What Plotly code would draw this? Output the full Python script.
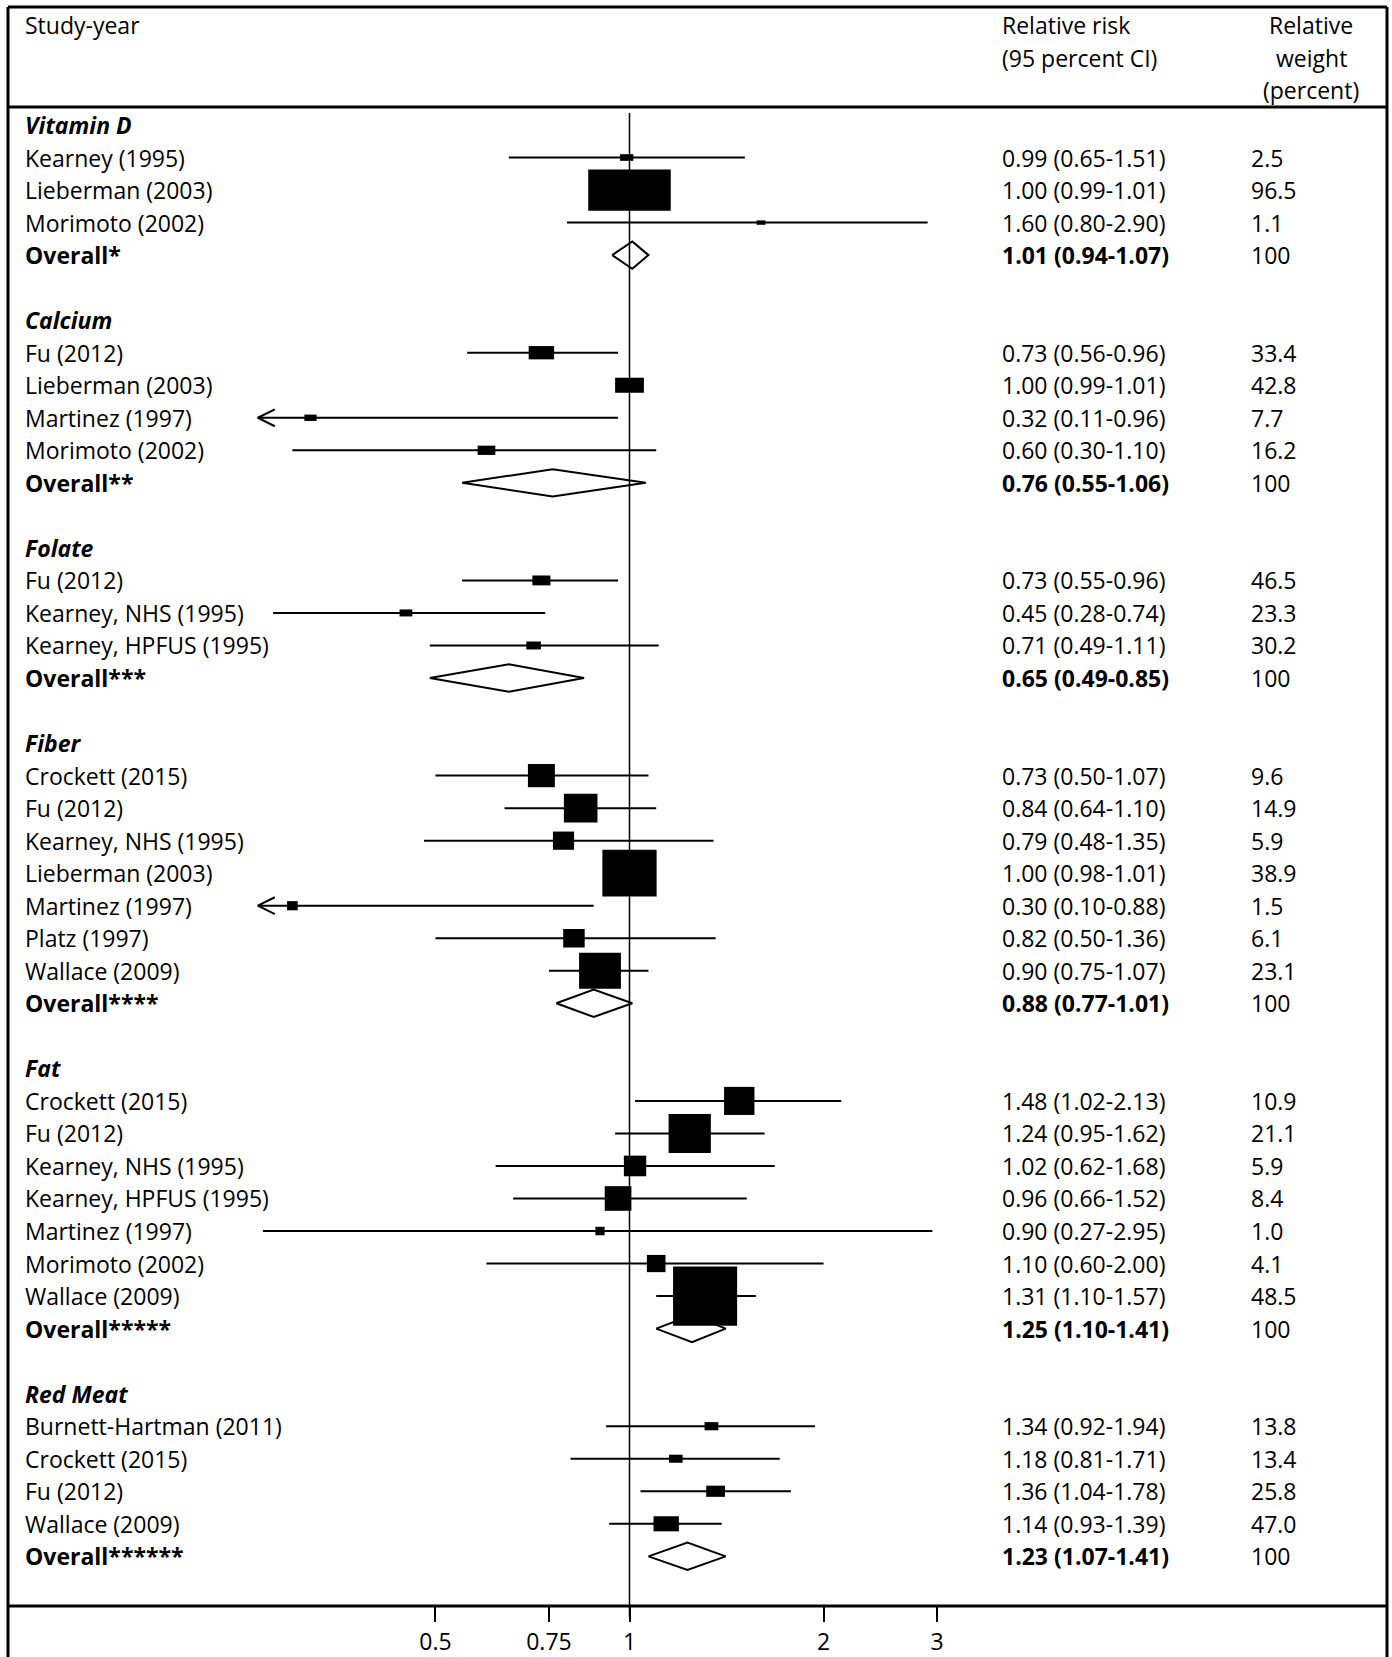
import numpy as np
import plotly.graph_objects as go

# ---- data ----
group_names = ["Vitamin D", "Calcium", "Folate", "Fiber", "Fat", "Red Meat"]

study_group = [0, 0, 0,
               1, 1, 1, 1,
               2, 2, 2,
               3, 3, 3, 3, 3, 3, 3,
               4, 4, 4, 4, 4, 4, 4,
               5, 5, 5, 5]
study_names = ["Kearney (1995)", "Lieberman (2003)", "Morimoto (2002)",
               "Fu (2012)", "Lieberman (2003)", "Martinez (1997)", "Morimoto (2002)",
               "Fu (2012)", "Kearney, NHS (1995)", "Kearney, HPFUS (1995)",
               "Crockett (2015)", "Fu (2012)", "Kearney, NHS (1995)", "Lieberman (2003)",
               "Martinez (1997)", "Platz (1997)", "Wallace (2009)",
               "Crockett (2015)", "Fu (2012)", "Kearney, NHS (1995)", "Kearney, HPFUS (1995)",
               "Martinez (1997)", "Morimoto (2002)", "Wallace (2009)",
               "Burnett-Hartman (2011)", "Crockett (2015)", "Fu (2012)", "Wallace (2009)"]
study_rr = [0.99, 1.00, 1.60,
            0.73, 1.00, 0.32, 0.60,
            0.73, 0.45, 0.71,
            0.73, 0.84, 0.79, 1.00, 0.30, 0.82, 0.90,
            1.48, 1.24, 1.02, 0.96, 0.90, 1.10, 1.31,
            1.34, 1.18, 1.36, 1.14]
study_lo = [0.65, 0.99, 0.80,
            0.56, 0.99, 0.11, 0.30,
            0.55, 0.28, 0.49,
            0.50, 0.64, 0.48, 0.98, 0.10, 0.50, 0.75,
            1.02, 0.95, 0.62, 0.66, 0.27, 0.60, 1.10,
            0.92, 0.81, 1.04, 0.93]
study_hi = [1.51, 1.01, 2.90,
            0.96, 1.01, 0.96, 1.10,
            0.96, 0.74, 1.11,
            1.07, 1.10, 1.35, 1.01, 0.88, 1.36, 1.07,
            2.13, 1.62, 1.68, 1.52, 2.95, 2.00, 1.57,
            1.94, 1.71, 1.78, 1.39]
study_weight = [2.5, 96.5, 1.1,
                33.4, 42.8, 7.7, 16.2,
                46.5, 23.3, 30.2,
                9.6, 14.9, 5.9, 38.9, 1.5, 6.1, 23.1,
                10.9, 21.1, 5.9, 8.4, 1.0, 4.1, 48.5,
                13.8, 13.4, 25.8, 47.0]

overall_labels = ["Overall*", "Overall**", "Overall***", "Overall****",
                  "Overall*****", "Overall******"]
overall_rr = [1.01, 0.76, 0.65, 0.88, 1.25, 1.23]
overall_lo = [0.94, 0.55, 0.49, 0.77, 1.10, 1.07]
overall_hi = [1.07, 1.06, 0.85, 1.01, 1.41, 1.41]

x_ticks = [0.5, 0.75, 1, 2, 3]
x_tick_labels = ["0.5", "0.75", "1", "2", "3"]

# ---- layout constants (pixels) ----
W, H = 1392, 1657
FONT = "Open Sans, sans-serif"
FS = 23
ROW0, ROW_H = 125, 32.53          # centre of first row, row pitch
AX_TOP, AX_BOT = 107, 1606        # header rule / axis rule
AX_L, AX_R = 257, 990             # plotting column
ONE_PX, DEC_PX = 629.5, 644.7     # where RR=1 sits, pixels per decade
COL_STUDY, COL_CI, COL_WT, COL_WT_HEAD = 23, 1000, 1249, 1311

# box size per sqrt(weight), in pixels (each panel was scaled differently)
box_w = {"Vitamin D": 8.4, "Calcium": 4.4, "Folate": 2.65, "Fiber": 8.7, "Fat": 9.2, "Red Meat": 3.7}
box_h = {"Vitamin D": 4.2, "Calcium": 2.3, "Folate": 1.45, "Fiber": 7.5, "Fat": 8.5, "Red Meat": 2.2}


def px(x):
    return x / W


def py(y):
    return 1 - y / H


x_range = [(AX_L - ONE_PX) / DEC_PX, (AX_R - ONE_PX) / DEC_PX]
y_range = [(AX_BOT - ROW0) / ROW_H, (AX_TOP - ROW0) / ROW_H]
x_min = 10 ** x_range[0]

# assign rows
group_row, overall_row = [], []
study_row = [None] * len(study_names)
r = 0
for g in range(len(group_names)):
    group_row.append(r)
    r += 1
    for i, sg in enumerate(study_group):
        if sg == g:
            study_row[i] = r
            r += 1
    overall_row.append(r)
    r += 2

fig = go.Figure()
line_style = dict(color="black", width=2)

for i in range(len(study_names)):
    row = study_row[i]
    g = group_names[study_group[i]]
    lo = max(study_lo[i], x_min * 1.003)
    fig.add_trace(go.Scatter(x=[lo, study_hi[i]], y=[row, row], mode="lines",
                             line=line_style, hoverinfo="skip", showlegend=False))
    if study_lo[i] < x_min:
        # open arrow head where the interval runs off the scale
        back = 10 ** (17 / DEC_PX)
        fig.add_trace(go.Scatter(x=[lo * back, lo, lo * back], y=[row - 0.26, row, row + 0.26],
                                 mode="lines", line=line_style, hoverinfo="skip", showlegend=False))
    hw = box_w[g] * np.sqrt(study_weight[i]) / 2 / DEC_PX
    hh = box_h[g] * np.sqrt(study_weight[i]) / 2 / ROW_H
    x0, x1 = study_rr[i] * 10 ** -hw, study_rr[i] * 10 ** hw
    fig.add_trace(go.Scatter(x=[x0, x1, x1, x0, x0], y=[row - hh, row - hh, row + hh, row + hh, row - hh],
                             mode="lines", fill="toself", fillcolor="black", line=dict(width=0),
                             hoverinfo="skip", showlegend=False))

for k in range(len(overall_labels)):
    row = overall_row[k]
    fig.add_trace(go.Scatter(x=[overall_lo[k], overall_rr[k], overall_hi[k], overall_rr[k], overall_lo[k]],
                             y=[row, row - 0.42, row, row + 0.42, row],
                             mode="lines", line=line_style, hoverinfo="skip", showlegend=False))

annotations = []


def label(x, y, text, anchor="left", yref="y"):
    annotations.append(dict(x=x, y=y, xref="paper", yref=yref, text=text, showarrow=False,
                            xanchor=anchor, yanchor="middle", font=dict(family=FONT, size=FS, color="black")))


# headers
hdr = [ROW0 - 3 * ROW_H - 2, ROW0 - 2 * ROW_H - 2, ROW0 - ROW_H - 2]
label(px(COL_STUDY), py(hdr[0]), "Study-year", yref="paper")
label(px(COL_CI), py(hdr[0]), "Relative risk", yref="paper")
label(px(COL_CI), py(hdr[1]), "(95 percent CI)", yref="paper")
label(px(COL_WT_HEAD), py(hdr[0]), "Relative", anchor="center", yref="paper")
label(px(COL_WT_HEAD), py(hdr[1]), "weight", anchor="center", yref="paper")
label(px(COL_WT_HEAD), py(hdr[2]), "(percent)", anchor="center", yref="paper")

for g, name in enumerate(group_names):
    label(px(COL_STUDY), group_row[g], "<b><i>%s</i></b>" % name)
for i, name in enumerate(study_names):
    label(px(COL_STUDY), study_row[i], name)
    label(px(COL_CI), study_row[i], "%.2f (%.2f-%.2f)" % (study_rr[i], study_lo[i], study_hi[i]))
    label(px(COL_WT), study_row[i], "%.1f" % study_weight[i])
for k, name in enumerate(overall_labels):
    label(px(COL_STUDY), overall_row[k], "<b>%s</b>" % name)
    label(px(COL_CI), overall_row[k], "<b>%.2f (%.2f-%.2f)</b>" % (overall_rr[k], overall_lo[k], overall_hi[k]))
    label(px(COL_WT), overall_row[k], "100")

# frame and rules
frame = dict(color="black", width=3)
shapes = [
    dict(type="line", xref="paper", yref="paper", x0=px(8), x1=px(8), y0=py(7), y1=0, line=frame),
    dict(type="line", xref="paper", yref="paper", x0=px(1387), x1=px(1387), y0=py(7), y1=0, line=frame),
    dict(type="line", xref="paper", yref="paper", x0=px(8), x1=px(1387), y0=py(7), y1=py(7), line=frame),
    dict(type="line", xref="paper", yref="paper", x0=px(8), x1=px(1387), y0=py(AX_TOP), y1=py(AX_TOP), line=frame),
    dict(type="line", xref="paper", yref="paper", x0=px(8), x1=px(1387), y0=py(AX_BOT), y1=py(AX_BOT), line=frame),
    # line of no effect
    dict(type="line", xref="x", yref="paper", x0=1, x1=1, y0=py(1617), y1=py(113),
         line=dict(color="black", width=1.5), layer="below"),
]

fig.update_layout(
    width=W, height=H,
    margin=dict(l=0, r=0, t=0, b=0),
    paper_bgcolor="white", plot_bgcolor="rgba(0,0,0,0)",
    showlegend=False,
    annotations=annotations,
    shapes=shapes,
    xaxis=dict(type="log", domain=[px(AX_L), px(AX_R)], range=x_range,
               tickvals=x_ticks, ticktext=x_tick_labels, ticks="outside", ticklen=15,
               tickwidth=1.5, tickcolor="black", ticklabelstandoff=0,
               tickfont=dict(family=FONT, size=FS, color="black"),
               showgrid=False, zeroline=False, showline=False, fixedrange=True),
    yaxis=dict(domain=[py(AX_BOT), py(AX_TOP)], range=y_range, visible=False,
               showgrid=False, zeroline=False, fixedrange=True),
)

# the page's default body margin would push the figure 8px off the window
fig.write_html("out.html", config={"displayModeBar": False},
               post_script="document.body.style.margin='0';")
